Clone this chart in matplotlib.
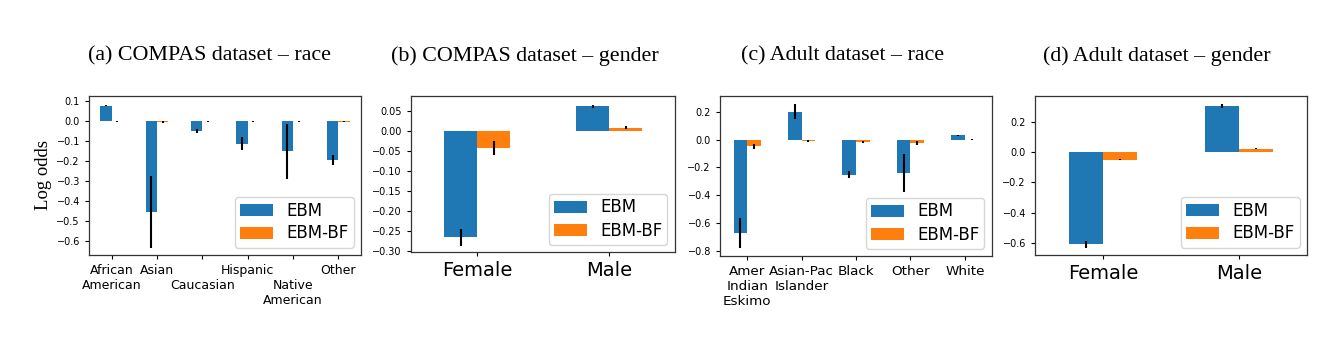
import numpy as np
import matplotlib
matplotlib.use("Agg")
import matplotlib.pyplot as plt

# COMPAS dataset - race
compas_race = ["African\nAmerican", "Asian", "Caucasian", "Hispanic", "Native\nAmerican", "Other"]
compas_race_ebm = [0.076, -0.457, -0.051, -0.114, -0.152, -0.195]
compas_race_ebm_err = [0.004, 0.180, 0.012, 0.034, 0.138, 0.025]
compas_race_bf = [-0.002, -0.005, -0.002, -0.003, -0.003, -0.004]
compas_race_bf_err = [0.002, 0.004, 0.002, 0.002, 0.002, 0.002]

# COMPAS dataset - gender
compas_gender = ["Female", "Male"]
compas_gender_ebm = [-0.266, 0.062]
compas_gender_ebm_err = [0.021, 0.004]
compas_gender_bf = [-0.043, 0.008]
compas_gender_bf_err = [0.018, 0.004]

# Adult dataset - race
adult_race = ["Amer\nIndian\nEskimo", "Asian-Pac\nIslander", "Black", "Other", "White"]
adult_race_ebm = [-0.675, 0.200, -0.252, -0.240, 0.030]
adult_race_ebm_err = [0.107, 0.052, 0.025, 0.135, 0.005]
adult_race_bf = [-0.048, -0.012, -0.018, -0.025, -0.003]
adult_race_bf_err = [0.018, 0.006, 0.008, 0.012, 0.004]

# Adult dataset - gender
adult_gender = ["Female", "Male"]
adult_gender_ebm = [-0.607, 0.303]
adult_gender_ebm_err = [0.022, 0.012]
adult_gender_bf = [-0.050, 0.022]
adult_gender_bf_err = [0.005, 0.003]

titles = ["(a) COMPAS dataset \u2013 race", "(b) COMPAS dataset \u2013 gender",
          "(c) Adult dataset \u2013 race", "(d) Adult dataset \u2013 gender"]

W, H = 1343, 338
fig = plt.figure(figsize=(W / 100, H / 100), dpi=100)


def px_axes(left, right, top, bottom):
    return fig.add_axes([left / W, (H - bottom) / H, (right - left) / W, (bottom - top) / H])


def fmt_tick(v, fmt):
    s = fmt.format(v + 0.0)
    if float(s) == 0:
        s = s.lstrip("-")
    return s.replace("-", "\u2212")


panels = [
    dict(box=(89, 361, 96, 255), cats=compas_race, ebm=compas_race_ebm, ebm_err=compas_race_ebm_err,
         bf=compas_race_bf, bf_err=compas_race_bf_err, ylim=(-0.67, 0.124),
         yticks=np.round(np.arange(-0.6, 0.11, 0.1), 1), yfmt="{:.1f}", xfs=9.0, title_x=210,
         stagger=[2, 4]),
    dict(box=(411, 675, 96, 252), cats=compas_gender, ebm=compas_gender_ebm, ebm_err=compas_gender_ebm_err,
         bf=compas_gender_bf, bf_err=compas_gender_bf_err, ylim=(-0.303, 0.0877),
         yticks=np.round(np.arange(-0.30, 0.051, 0.05), 2), yfmt="{:.2f}", xfs=14.0, title_x=525,
         stagger=[]),
    dict(box=(720, 992, 96, 256), cats=adult_race, ebm=adult_race_ebm, ebm_err=adult_race_ebm_err,
         bf=adult_race_bf, bf_err=adult_race_bf_err, ylim=(-0.838, 0.313),
         yticks=np.round(np.arange(-0.8, 0.21, 0.2), 1), yfmt="{:.1f}", xfs=9.7, title_x=843,
         stagger=[]),
    dict(box=(1035, 1307, 96, 255), cats=adult_gender, ebm=adult_gender_ebm, ebm_err=adult_gender_ebm_err,
         bf=adult_gender_bf, bf_err=adult_gender_bf_err, ylim=(-0.677, 0.369),
         yticks=np.round(np.arange(-0.6, 0.21, 0.2), 1), yfmt="{:.1f}", xfs=14.0, title_x=1157,
         stagger=[]),
]

width = 0.25
ekw = dict(ecolor="black", elinewidth=1.5, capsize=0)

for i, p in enumerate(panels):
    ax = px_axes(*p["box"])
    x = np.arange(len(p["cats"]))
    ax.bar(x - width / 2, p["ebm"], width, yerr=p["ebm_err"], color="#1f77b4",
           error_kw=ekw, label="EBM")
    ax.bar(x + width / 2, p["bf"], width, yerr=p["bf_err"], color="#ff7f0e",
           error_kw=ekw, label="EBM-BF")
    ax.set_xlim(-0.5, len(p["cats"]) - 0.5)
    ax.set_ylim(*p["ylim"])
    ax.set_xticks(x)
    ax.set_xticklabels(p["cats"], fontsize=p["xfs"])
    ax.set_yticks(p["yticks"])
    ax.set_yticklabels([fmt_tick(v, p["yfmt"]) for v in p["yticks"]], fontsize=7)
    ax.tick_params(length=3, width=0.8)
    # push alternate labels down one text line so neighbours don't collide
    line_pt = p["xfs"] * 1.2
    for k, tick in enumerate(ax.xaxis.get_major_ticks()):
        if k in p["stagger"]:
            tick.set_pad(3.5 + line_pt)
    for s in ax.spines.values():
        s.set_linewidth(0.9)
        s.set_color("#333333")
    ax.legend(loc="lower right", fontsize=12, handlelength=2.0,
              labelspacing=0.3, borderpad=0.3, borderaxespad=0.45)
    fig.text(p["title_x"] / W, (H - 56) / H, titles[i], ha="center", va="center",
             fontsize=15.8, family="Liberation Serif")
    if i == 0:
        ax.set_ylabel("Log odds", fontsize=13.5, family="Liberation Serif", labelpad=3)

fig.savefig("out.png", dpi=100)
